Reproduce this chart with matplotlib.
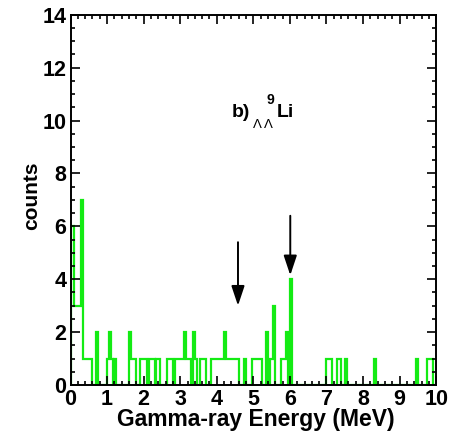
import matplotlib
matplotlib.use("Agg")
import matplotlib.pyplot as plt
import numpy as np
from matplotlib.ticker import MultipleLocator

# histogram: 0-10 MeV, 0.05 MeV bins; only non-empty bins listed
BIN_WIDTH = 0.05
N_BINS = 200
bin_index = [0, 1, 2, 3, 4, 5, 6,
             7, 8, 9, 10, 11,
             14,
             20, 21, 22,
             24,
             32, 33, 34, 35,
             38, 39, 40, 41,
             43, 44, 45, 47, 48,
             53, 54, 55,
             57, 58, 59, 60, 61, 62, 63, 64, 65, 67, 68,
             71, 72, 73,
             77, 78, 79, 80, 81, 82, 83, 84, 85, 86, 87, 88, 89, 90, 91,
             95,
             99, 100, 101, 102, 103, 104,
             107, 109, 110, 111,
             115, 116, 117, 118, 120,
             140, 141, 142, 146, 147, 150,
             166,
             189,
             195, 196, 197]
bin_counts = [6, 6, 3, 3, 3, 3, 7,
              1, 1, 1, 1, 1,
              2,
              1, 2, 1,
              1,
              2, 1, 1, 1,
              1, 1, 1, 1,
              1, 1, 1, 1, 1,
              1, 1, 1,
              1, 1, 1, 1, 1, 2, 1, 1, 1, 2, 1,
              1, 1, 1,
              1, 1, 1, 1, 1, 1, 1, 2, 1, 1, 1, 1, 1, 1, 1,
              1,
              1, 1, 1, 1, 1, 1,
              2, 1, 1, 3,
              1, 1, 1, 2, 4,
              1, 1, 1, 1, 1, 1,
              1,
              1,
              1, 1, 1]

# arrows marking expected lines: (energy, top, tip)
arrow_energy = [4.58, 6.01]
arrow_top = [5.4, 6.4]
arrow_tip = [3.0, 4.15]

FONT = "Liberation Sans"
GREEN = "#14eb14"

values = np.zeros(N_BINS)
values[bin_index] = bin_counts
edges = np.linspace(0, N_BINS * BIN_WIDTH, N_BINS + 1)

fig = plt.figure(figsize=(4.64, 4.36), dpi=100)
ax = fig.add_axes([0.152, 0.117, 0.788, 0.849])

ax.stairs(values, edges, color=GREEN, linewidth=1.6, baseline=0)

for e, top, tip in zip(arrow_energy, arrow_top, arrow_tip):
    ax.annotate("", xy=(e, tip), xytext=(e, top),
                arrowprops=dict(arrowstyle="-|>,head_width=0.4,head_length=1.2",
                                color="black", lw=1.4, shrinkA=0, shrinkB=0))

ax.text(4.42, 10.12, "b)", fontfamily=FONT, fontweight="bold", fontsize=14,
        ha="left", va="baseline")
ax.text(5.36, 10.62, "9", fontfamily=FONT, fontweight="bold", fontsize=10,
        ha="left", va="baseline")
ax.text(4.99, 9.71, "\u039b \u039b", fontfamily=FONT, fontsize=9.5,
        ha="left", va="baseline")
ax.text(5.65, 10.12, "Li", fontfamily=FONT, fontweight="bold", fontsize=14,
        ha="left", va="baseline")

ax.set_xlim(0, 10)
ax.set_ylim(0, 14)
ax.xaxis.set_major_locator(MultipleLocator(1))
ax.xaxis.set_minor_locator(MultipleLocator(0.2))
ax.yaxis.set_major_locator(MultipleLocator(2))
ax.yaxis.set_minor_locator(MultipleLocator(0.5))
ax.tick_params(which="both", direction="in", top=True, right=True, width=1.2)
ax.tick_params(which="major", length=6.5, pad=3)
ax.tick_params(which="minor", length=3.2)
for spine in ax.spines.values():
    spine.set_linewidth(1.4)

for lab in ax.get_xticklabels() + ax.get_yticklabels():
    lab.set_fontfamily(FONT)
    lab.set_fontweight("bold")
    lab.set_fontsize(15.5)

fig.text(0.552, 0.037, "Gamma-ray Energy (MeV)", fontfamily=FONT,
         fontweight="bold", fontsize=16.5, ha="center", va="center")
fig.text(0.068, 0.55, "counts", fontfamily=FONT, fontweight="bold",
         fontsize=15, ha="center", va="center", rotation=90)

fig.savefig("out.png", dpi=100)
